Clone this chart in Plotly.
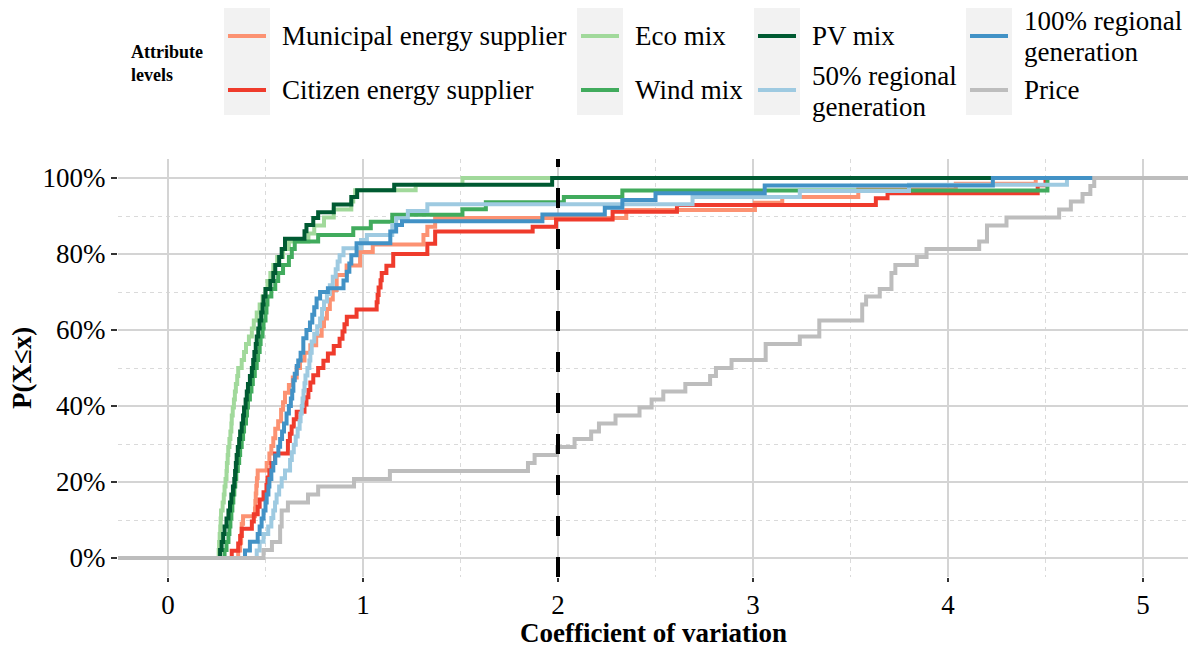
import plotly.graph_objects as go

# ---------------- data: step points of each empirical CDF (CV value, cumulative %) ----------------
muni_x = [0.36, 0.37, 0.375, 0.378, 0.385, 0.446, 0.448, 0.45, 0.453, 0.456, 0.46, 0.506, 0.52, 0.53, 0.54,
          0.55, 0.565, 0.58, 0.59, 0.60, 0.62, 0.64, 0.66, 0.677, 0.70, 0.73, 0.76, 0.788, 0.80, 0.815,
          0.83, 0.845, 0.865, 0.916, 0.985, 1.05, 1.31, 1.33, 1.37, 2.35, 3.01, 3.15, 3.54, 4.04, 4.45]
muni_p = [2, 4, 6, 9, 11, 13, 15, 17, 19, 21, 23, 25, 27.5, 29.5, 31.5,
          34, 36, 39, 41, 43.5, 45.5, 47.5, 50, 52, 54, 56, 58.5, 61, 63, 65.5,
          68, 70.5, 74.5, 77, 80.5, 82.5, 85, 87.2, 89.5, 91.6, 93.5, 95, 97, 98.5, 100]

citizen_x = [0.327, 0.36, 0.37, 0.378, 0.43, 0.44, 0.46, 0.47, 0.49, 0.505, 0.51, 0.52, 0.53, 0.549, 0.615,
             0.625, 0.634, 0.645, 0.66, 0.70, 0.71, 0.72, 0.73, 0.745, 0.77, 0.797, 0.82, 0.85, 0.88, 0.895,
             0.905, 0.917, 0.967, 1.07, 1.075, 1.08, 1.09, 1.096, 1.12, 1.155, 1.33, 1.37, 1.87, 1.99, 2.28,
             2.61, 3.63, 3.69, 4.46, 4.5]
citizen_p = [1.9, 3.8, 5.8, 7.7, 9.6, 11.5, 13.5, 15.4, 17.3, 19.2, 21.2, 23.1, 25, 27.5, 30.8,
             32.7, 34.6, 36.5, 38.5, 40.4, 42.3, 44.2, 46.2, 48.1, 50, 51.9, 53.8, 55.8, 57.7, 59.6,
             61.5, 63.5, 65.4, 67.3, 69.2, 71.2, 73.1, 75, 76.9, 80, 82.7, 85.9, 87.2, 89.1, 91.1,
             92.9, 94.7, 96, 98.1, 100]

eco_x = [0.26, 0.262, 0.265, 0.268, 0.27, 0.272, 0.28, 0.286, 0.29, 0.295, 0.30, 0.302, 0.306, 0.309, 0.315,
         0.32, 0.325, 0.327, 0.332, 0.338, 0.343, 0.348, 0.355, 0.36, 0.378, 0.39, 0.40, 0.415, 0.43, 0.44,
         0.455, 0.47, 0.485, 0.50, 0.51, 0.525, 0.54, 0.56, 0.59, 0.62, 0.72, 0.75, 0.80, 0.85, 0.94,
         0.95, 0.96, 1.27, 1.51]
eco_p = [2.1, 4.2, 6.3, 8.3, 10.4, 12.5, 14.6, 16.7, 18.8, 20.8, 22.9, 25.0, 27.1, 29.2, 31.3,
         33.3, 35.4, 37.5, 39.6, 41.7, 43.8, 45.8, 47.9, 50.0, 52.1, 54.2, 56.3, 58.3, 60.4, 62.5,
         64.6, 66.7, 68.8, 70.8, 72.9, 75.0, 77.1, 79.2, 81.3, 83.3, 85.4, 87.5, 89.6, 91.7, 93.8,
         95.0, 96.8, 98.2, 100]

wind_x = [0.29, 0.30, 0.31, 0.315, 0.32, 0.325, 0.33, 0.335, 0.34, 0.345, 0.35, 0.358, 0.365, 0.37, 0.378,
          0.385, 0.39, 0.40, 0.405, 0.41, 0.42, 0.428, 0.435, 0.445, 0.455, 0.462, 0.47, 0.475, 0.485, 0.49,
          0.50, 0.505, 0.51, 0.53, 0.55, 0.565, 0.59, 0.62, 0.635, 0.65, 0.77, 0.95, 1.04, 1.15, 1.51,
          1.63, 2.03, 2.33, 4.51]
wind_p = [2.1, 4.2, 6.3, 8.3, 10.4, 12.5, 14.6, 16.7, 18.8, 20.8, 22.9, 25.0, 27.1, 29.2, 31.3,
          33.3, 35.4, 37.5, 39.6, 41.7, 43.8, 45.8, 47.9, 50.0, 52.1, 54.2, 56.3, 58.3, 60.4, 62.5,
          64.6, 66.7, 68.8, 70.8, 72.9, 75.0, 77.1, 79.2, 81.3, 83.3, 85.0, 86.8, 88.5, 90.3, 91.8,
          93.6, 95.0, 96.7, 100]

pv_x = [0.267, 0.275, 0.283, 0.29, 0.30, 0.31, 0.318, 0.325, 0.333, 0.34, 0.344, 0.348, 0.352, 0.358, 0.365,
        0.37, 0.378, 0.385, 0.39, 0.398, 0.404, 0.41, 0.42, 0.43, 0.437, 0.443, 0.45, 0.455, 0.463, 0.47,
        0.478, 0.485, 0.49, 0.50, 0.525, 0.54, 0.55, 0.57, 0.583, 0.60, 0.70, 0.71, 0.745, 0.77, 0.85,
        0.94, 0.97, 1.16, 1.97]
pv_p = [2.1, 4.2, 6.3, 8.3, 10.4, 12.5, 14.6, 16.7, 18.8, 20.8, 22.9, 25.0, 27.1, 29.2, 31.3,
        33.3, 35.4, 37.5, 39.6, 41.7, 43.8, 45.8, 47.9, 50.0, 52.1, 54.2, 56.3, 58.3, 60.4, 62.5,
        64.6, 66.7, 68.8, 70.8, 72.9, 75.0, 77.1, 79.2, 81.3, 84.0, 86.0, 87.6, 89.5, 91.0, 93.0,
        95.0, 96.8, 98.2, 100]

reg50_x = [0.455, 0.47, 0.49, 0.514, 0.53, 0.54, 0.549, 0.557, 0.57, 0.583, 0.60, 0.626, 0.635, 0.645, 0.655,
           0.665, 0.675, 0.68, 0.686, 0.69, 0.695, 0.70, 0.705, 0.715, 0.725, 0.73, 0.737, 0.75, 0.765, 0.78,
           0.79, 0.80, 0.815, 0.83, 0.845, 0.86, 0.87, 0.88, 0.90, 0.99, 1.02, 1.15, 1.17, 1.23, 1.33,
           2.69, 3.24, 3.8, 4.61]
reg50_p = [2, 4.3, 6.3, 8.3, 10.5, 12.5, 14.6, 16.7, 18.8, 21, 23, 25.8, 27.8, 29.8, 32,
           34, 36, 38, 40, 42, 44, 46, 48, 50, 52, 54, 57, 59, 61, 63,
           65.5, 67.5, 69.5, 71.8, 74, 76, 78, 79.7, 81.5, 83.7, 85, 87.6, 89.4, 91.3, 93.1,
           95, 96.6, 98.2, 100]

reg100_x = [0.395, 0.42, 0.46, 0.47, 0.48, 0.49, 0.50, 0.506, 0.515, 0.52, 0.53, 0.54, 0.55, 0.566, 0.575,
            0.585, 0.595, 0.608, 0.62, 0.63, 0.637, 0.643, 0.65, 0.66, 0.668, 0.68, 0.694, 0.71, 0.728, 0.74,
            0.75, 0.762, 0.78, 0.82, 0.90, 0.917, 0.93, 0.94, 0.967, 1.14, 1.17, 1.2, 1.92, 2.24, 2.33,
            2.5, 3.06, 4.23]
reg100_p = [2, 4.3, 6.3, 8.3, 10.4, 12.5, 14.6, 16.7, 18.8, 20.8, 23, 25, 27, 29.3, 31.3,
            33.3, 35.4, 38, 40, 42, 44, 46.8, 48.5, 50.5, 52, 54, 57.8, 60, 62, 64,
            66, 68.3, 70, 71, 73, 75.3, 77.5, 79.7, 82.8, 85.9, 87.6, 88.6, 90.4, 92.2, 94.2,
            96, 98, 100]

price_x = [0.49, 0.533, 0.575, 0.583, 0.615, 0.718, 0.77, 0.954, 1.138, 1.846, 1.88, 1.995, 2.085, 2.17, 2.21,
           2.295, 2.418, 2.48, 2.54, 2.653, 2.78, 2.81, 2.89, 3.065, 3.24, 3.34, 3.56, 3.58, 3.65, 3.71,
           3.73, 3.84, 3.89, 4.16, 4.2, 4.30, 4.57, 4.63, 4.69, 4.73, 4.75]
price_p = [2.1, 4.2, 8.3, 12.5, 14.6, 16.7, 18.8, 20.8, 22.9, 25.0, 27.1, 29.2, 31.3, 33.3, 35.4,
           37.5, 39.6, 41.7, 43.8, 45.8, 47.9, 50.0, 52.1, 56.3, 58.3, 62.5, 66.7, 68.8, 70.8, 75.0,
           77.1, 79.2, 81.3, 83.3, 87.5, 89.6, 91.7, 93.8, 95.8, 97.9, 100]

series_names = ["Municipal energy supplier", "Citizen energy supplier", "Eco mix", "Wind mix", "PV mix",
                "50% regional generation", "100% regional generation", "Price"]
series_colors = ["#fc9272", "#ef3b2c", "#a1d99b", "#41ab5d", "#005a32", "#9ecae1", "#4292c6", "#bdbdbd"]
series_data = [(muni_x, muni_p), (citizen_x, citizen_p), (eco_x, eco_p), (wind_x, wind_p), (pv_x, pv_p),
               (reg50_x, reg50_p), (reg100_x, reg100_p), (price_x, price_p)]

x_ticks = [0, 1, 2, 3, 4, 5]
y_ticks = [0, 0.2, 0.4, 0.6, 0.8, 1.0]
y_ticklabels = ["0%", "20%", "40%", "60%", "80%", "100%"]
threshold = 2

# ---------------- layout geometry ----------------
W, H = 1190, 648
ML, MR, MT, MB = 118, 2, 159, 71
XR = [-0.2564, 5.2308]
YR = [-0.05, 1.05]
PW = W - ML - MR
PH = H - MT - MB


def px(xpix):
    return (xpix - ML) / PW


def py(ypix):
    return (H - MB - ypix) / PH


FONT = "Liberation Serif"
TS = 27  # text size

fig = go.Figure()
for name, color, (xs, ps) in zip(series_names, series_colors, series_data):
    xx = [XR[0]] + list(xs) + [XR[1]]
    yy = [0] + [v / 100 for v in ps] + [1]
    fig.add_trace(go.Scatter(x=xx, y=yy, mode="lines", name=name,
                             line=dict(color=color, width=4, shape="hv"),
                             showlegend=False, hoverinfo="skip"))

shapes = []
# threshold line
shapes.append(dict(type="line", xref="x", yref="paper", x0=threshold, x1=threshold, y0=0, y1=1,
                   line=dict(color="black", width=4, dash="20px,21px"), layer="above"))

annotations = []
# axis titles
annotations.append(dict(text="<b>Coefficient of variation</b>", xref="paper", yref="paper",
                        x=0.5, y=py(633), xanchor="center", yanchor="middle", showarrow=False,
                        font=dict(size=TS, family=FONT, color="black")))
annotations.append(dict(text="<b>P(X≤x)</b>", xref="paper", yref="paper",
                        x=px(22), y=py(368), xanchor="center", yanchor="middle", showarrow=False,
                        textangle=-90, font=dict(size=TS, family=FONT, color="black")))

# legend (custom, ggplot style)
annotations.append(dict(text="<b>Attribute</b><br><b>levels</b>", xref="paper", yref="paper",
                        x=px(129), y=py(64), xanchor="left", yanchor="middle", showarrow=False,
                        align="left", font=dict(size=18, family=FONT, color="black")))

legend_cols = [224, 577, 754, 966]
key_w = 46
row_y = [36, 90]
legend_lines = {
    0: (0, 0, ["Municipal energy supplier"]),
    1: (0, 1, ["Citizen energy supplier"]),
    2: (1, 0, ["Eco mix"]),
    3: (1, 1, ["Wind mix"]),
    4: (2, 0, ["PV mix"]),
    5: (2, 1, ["50% regional", "generation"]),
    6: (3, 0, ["100% regional", "generation"]),
    7: (3, 1, ["Price"]),
}
for c in legend_cols:
    shapes.append(dict(type="rect", xref="paper", yref="paper", x0=px(c), x1=px(c + key_w),
                       y0=py(115), y1=py(8), fillcolor="#f2f2f2", line=dict(width=0)))
for idx, (col, row, lines) in legend_lines.items():
    c = legend_cols[col]
    yc = row_y[row]
    shapes.append(dict(type="line", xref="paper", yref="paper", x0=px(c + 4), x1=px(c + key_w - 4),
                       y0=py(yc), y1=py(yc), line=dict(color=series_colors[idx], width=4)))
    if len(lines) == 1:
        annotations.append(dict(text=lines[0], xref="paper", yref="paper", x=px(c + key_w + 10), y=py(yc),
                                xanchor="left", yanchor="middle", showarrow=False,
                                font=dict(size=TS, family=FONT, color="black")))
    else:
        # compact line pitch: base size sets the pitch, span sets glyph size
        txt = "<br>".join(f"<span style='font-size:{TS}px'>{t}</span>" for t in lines)
        annotations.append(dict(text=txt, xref="paper", yref="paper", x=px(c + key_w + 10),
                                y=py(yc + 1), xanchor="left", yanchor="middle", showarrow=False,
                                align="left", font=dict(size=24, family=FONT, color="black")))

fig.update_layout(
    width=W, height=H,
    margin=dict(l=ML, r=MR, t=MT, b=MB),
    plot_bgcolor="white", paper_bgcolor="white",
    showlegend=False,
    font=dict(family=FONT, size=TS, color="black"),
    shapes=shapes, annotations=annotations,
    xaxis=dict(range=XR, tickmode="array", tickvals=x_ticks, ticks="outside", ticklen=4, tickwidth=2,
               tickcolor="#333333", showgrid=True, gridcolor="#d4d4d4", gridwidth=2, zeroline=False,
               showline=False, tickfont=dict(size=TS, family=FONT, color="black"),
               minor=dict(tickmode="linear", tick0=0, dtick=0.5, showgrid=True, gridcolor="#dadada",
                          griddash="4px,4px", gridwidth=1, ticks="")),
    yaxis=dict(range=YR, tickmode="array", tickvals=y_ticks, ticktext=y_ticklabels, ticks="outside",
               ticklen=6, tickwidth=2, tickcolor="#333333", showgrid=True, gridcolor="#d4d4d4",
               gridwidth=2, zeroline=False, showline=False,
               tickfont=dict(size=TS, family=FONT, color="black"),
               minor=dict(tickmode="linear", tick0=0, dtick=0.1, showgrid=True, gridcolor="#dadada",
                          griddash="4px,4px", gridwidth=1, ticks="")),
)

fig.write_html("out.html")
